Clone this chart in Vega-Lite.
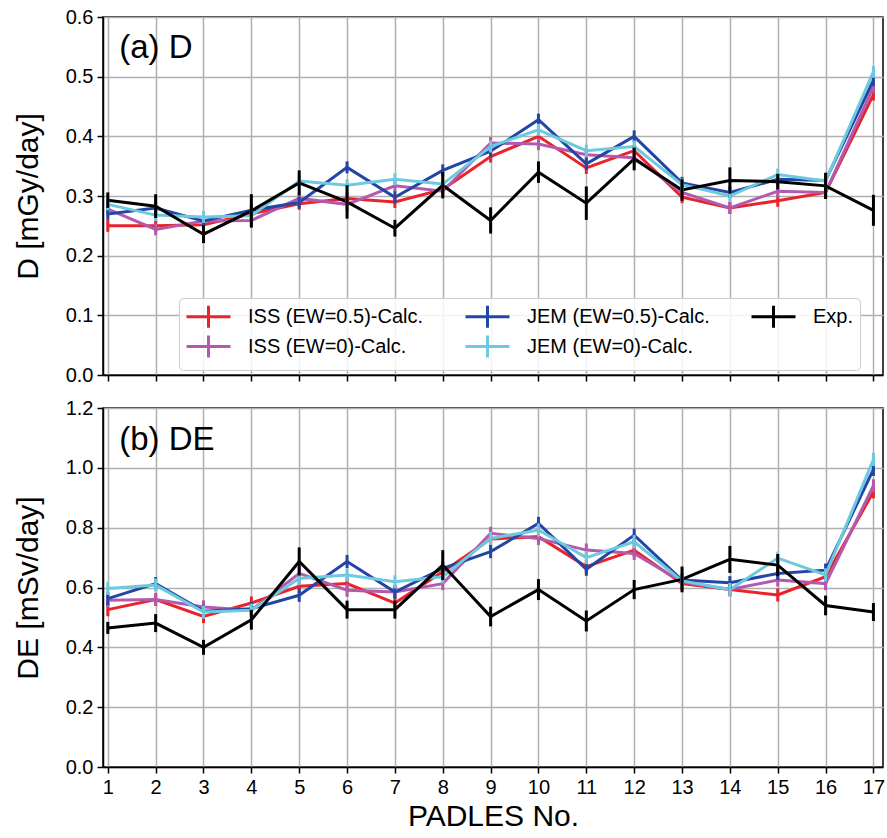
{
  "$schema": "https://vega.github.io/schema/vega-lite/v6.json",
  "padding": {"left": 12, "top": 6, "right": 3, "bottom": 4},
  "bounds": "flush",
  "spacing": 33,
  "resolve": {"legend": {"color": "independent"}},
  "config": {
    "font": "Liberation Sans",
    "view": {"stroke": "black", "strokeWidth": 1.5},
    "axis": {"gridColor": "#b0b0b0", "gridWidth": 1.5, "domainColor": "black", "domainWidth": 1.5, "tickColor": "black", "tickWidth": 1.5, "tickSize": 6, "labelFontSize": 20, "labelColor": "black", "titleFontSize": 30, "titleFontWeight": "normal", "titleColor": "black", "labelFont": "Liberation Sans", "titleFont": "Liberation Sans", "labelPadding": 4}
  },
  "datasets": {
    "d": [
      {"p":"D","s":"ISS (EW=0.5)-Calc.","x":1,"y":0.250,"e":0.01},{"p":"D","s":"ISS (EW=0.5)-Calc.","x":2,"y":0.250,"e":0.01},{"p":"D","s":"ISS (EW=0.5)-Calc.","x":3,"y":0.252,"e":0.01},{"p":"D","s":"ISS (EW=0.5)-Calc.","x":4,"y":0.270,"e":0.01},{"p":"D","s":"ISS (EW=0.5)-Calc.","x":5,"y":0.287,"e":0.01},{"p":"D","s":"ISS (EW=0.5)-Calc.","x":6,"y":0.296,"e":0.01},{"p":"D","s":"ISS (EW=0.5)-Calc.","x":7,"y":0.290,"e":0.01},{"p":"D","s":"ISS (EW=0.5)-Calc.","x":8,"y":0.311,"e":0.01},{"p":"D","s":"ISS (EW=0.5)-Calc.","x":9,"y":0.366,"e":0.01},{"p":"D","s":"ISS (EW=0.5)-Calc.","x":10,"y":0.400,"e":0.01},{"p":"D","s":"ISS (EW=0.5)-Calc.","x":11,"y":0.347,"e":0.01},{"p":"D","s":"ISS (EW=0.5)-Calc.","x":12,"y":0.376,"e":0.01},{"p":"D","s":"ISS (EW=0.5)-Calc.","x":13,"y":0.298,"e":0.01},{"p":"D","s":"ISS (EW=0.5)-Calc.","x":14,"y":0.280,"e":0.01},{"p":"D","s":"ISS (EW=0.5)-Calc.","x":15,"y":0.292,"e":0.01},{"p":"D","s":"ISS (EW=0.5)-Calc.","x":16,"y":0.306,"e":0.01},{"p":"D","s":"ISS (EW=0.5)-Calc.","x":17,"y":0.470,"e":0.01},
      {"p":"D","s":"ISS (EW=0)-Calc.","x":1,"y":0.278,"e":0.01},{"p":"D","s":"ISS (EW=0)-Calc.","x":2,"y":0.244,"e":0.01},{"p":"D","s":"ISS (EW=0)-Calc.","x":3,"y":0.258,"e":0.01},{"p":"D","s":"ISS (EW=0)-Calc.","x":4,"y":0.259,"e":0.01},{"p":"D","s":"ISS (EW=0)-Calc.","x":5,"y":0.296,"e":0.01},{"p":"D","s":"ISS (EW=0)-Calc.","x":6,"y":0.286,"e":0.01},{"p":"D","s":"ISS (EW=0)-Calc.","x":7,"y":0.317,"e":0.01},{"p":"D","s":"ISS (EW=0)-Calc.","x":8,"y":0.308,"e":0.01},{"p":"D","s":"ISS (EW=0)-Calc.","x":9,"y":0.389,"e":0.01},{"p":"D","s":"ISS (EW=0)-Calc.","x":10,"y":0.387,"e":0.01},{"p":"D","s":"ISS (EW=0)-Calc.","x":11,"y":0.369,"e":0.01},{"p":"D","s":"ISS (EW=0)-Calc.","x":12,"y":0.364,"e":0.01},{"p":"D","s":"ISS (EW=0)-Calc.","x":13,"y":0.306,"e":0.01},{"p":"D","s":"ISS (EW=0)-Calc.","x":14,"y":0.280,"e":0.01},{"p":"D","s":"ISS (EW=0)-Calc.","x":15,"y":0.308,"e":0.01},{"p":"D","s":"ISS (EW=0)-Calc.","x":16,"y":0.306,"e":0.01},{"p":"D","s":"ISS (EW=0)-Calc.","x":17,"y":0.483,"e":0.01},
      {"p":"D","s":"JEM (EW=0.5)-Calc.","x":1,"y":0.270,"e":0.01},{"p":"D","s":"JEM (EW=0.5)-Calc.","x":2,"y":0.280,"e":0.01},{"p":"D","s":"JEM (EW=0.5)-Calc.","x":3,"y":0.258,"e":0.01},{"p":"D","s":"JEM (EW=0.5)-Calc.","x":4,"y":0.276,"e":0.01},{"p":"D","s":"JEM (EW=0.5)-Calc.","x":5,"y":0.289,"e":0.01},{"p":"D","s":"JEM (EW=0.5)-Calc.","x":6,"y":0.348,"e":0.01},{"p":"D","s":"JEM (EW=0.5)-Calc.","x":7,"y":0.298,"e":0.01},{"p":"D","s":"JEM (EW=0.5)-Calc.","x":8,"y":0.343,"e":0.01},{"p":"D","s":"JEM (EW=0.5)-Calc.","x":9,"y":0.375,"e":0.01},{"p":"D","s":"JEM (EW=0.5)-Calc.","x":10,"y":0.428,"e":0.01},{"p":"D","s":"JEM (EW=0.5)-Calc.","x":11,"y":0.354,"e":0.01},{"p":"D","s":"JEM (EW=0.5)-Calc.","x":12,"y":0.400,"e":0.01},{"p":"D","s":"JEM (EW=0.5)-Calc.","x":13,"y":0.322,"e":0.01},{"p":"D","s":"JEM (EW=0.5)-Calc.","x":14,"y":0.306,"e":0.01},{"p":"D","s":"JEM (EW=0.5)-Calc.","x":15,"y":0.328,"e":0.01},{"p":"D","s":"JEM (EW=0.5)-Calc.","x":16,"y":0.326,"e":0.01},{"p":"D","s":"JEM (EW=0.5)-Calc.","x":17,"y":0.494,"e":0.01},
      {"p":"D","s":"JEM (EW=0)-Calc.","x":1,"y":0.286,"e":0.01},{"p":"D","s":"JEM (EW=0)-Calc.","x":2,"y":0.268,"e":0.01},{"p":"D","s":"JEM (EW=0)-Calc.","x":3,"y":0.265,"e":0.01},{"p":"D","s":"JEM (EW=0)-Calc.","x":4,"y":0.267,"e":0.01},{"p":"D","s":"JEM (EW=0)-Calc.","x":5,"y":0.325,"e":0.01},{"p":"D","s":"JEM (EW=0)-Calc.","x":6,"y":0.318,"e":0.01},{"p":"D","s":"JEM (EW=0)-Calc.","x":7,"y":0.328,"e":0.01},{"p":"D","s":"JEM (EW=0)-Calc.","x":8,"y":0.320,"e":0.01},{"p":"D","s":"JEM (EW=0)-Calc.","x":9,"y":0.383,"e":0.01},{"p":"D","s":"JEM (EW=0)-Calc.","x":10,"y":0.411,"e":0.01},{"p":"D","s":"JEM (EW=0)-Calc.","x":11,"y":0.376,"e":0.01},{"p":"D","s":"JEM (EW=0)-Calc.","x":12,"y":0.383,"e":0.01},{"p":"D","s":"JEM (EW=0)-Calc.","x":13,"y":0.319,"e":0.01},{"p":"D","s":"JEM (EW=0)-Calc.","x":14,"y":0.300,"e":0.01},{"p":"D","s":"JEM (EW=0)-Calc.","x":15,"y":0.336,"e":0.01},{"p":"D","s":"JEM (EW=0)-Calc.","x":16,"y":0.325,"e":0.01},{"p":"D","s":"JEM (EW=0)-Calc.","x":17,"y":0.508,"e":0.01},
      {"p":"D","s":"Exp.","x":1,"y":0.293,"e":0.013},{"p":"D","s":"Exp.","x":2,"y":0.283,"e":0.02},{"p":"D","s":"Exp.","x":3,"y":0.236,"e":0.015},{"p":"D","s":"Exp.","x":4,"y":0.275,"e":0.028},{"p":"D","s":"Exp.","x":5,"y":0.322,"e":0.021},{"p":"D","s":"Exp.","x":6,"y":0.290,"e":0.028},{"p":"D","s":"Exp.","x":7,"y":0.246,"e":0.014},{"p":"D","s":"Exp.","x":8,"y":0.318,"e":0.022},{"p":"D","s":"Exp.","x":9,"y":0.259,"e":0.022},{"p":"D","s":"Exp.","x":10,"y":0.340,"e":0.018},{"p":"D","s":"Exp.","x":11,"y":0.288,"e":0.028},{"p":"D","s":"Exp.","x":12,"y":0.362,"e":0.019},{"p":"D","s":"Exp.","x":13,"y":0.310,"e":0.018},{"p":"D","s":"Exp.","x":14,"y":0.326,"e":0.022},{"p":"D","s":"Exp.","x":15,"y":0.324,"e":0.013},{"p":"D","s":"Exp.","x":16,"y":0.317,"e":0.022},{"p":"D","s":"Exp.","x":17,"y":0.276,"e":0.026},
      {"p":"DE","s":"ISS (EW=0.5)-Calc.","x":1,"y":0.526,"e":0.022},{"p":"DE","s":"ISS (EW=0.5)-Calc.","x":2,"y":0.560,"e":0.022},{"p":"DE","s":"ISS (EW=0.5)-Calc.","x":3,"y":0.503,"e":0.022},{"p":"DE","s":"ISS (EW=0.5)-Calc.","x":4,"y":0.548,"e":0.022},{"p":"DE","s":"ISS (EW=0.5)-Calc.","x":5,"y":0.604,"e":0.022},{"p":"DE","s":"ISS (EW=0.5)-Calc.","x":6,"y":0.613,"e":0.022},{"p":"DE","s":"ISS (EW=0.5)-Calc.","x":7,"y":0.548,"e":0.022},{"p":"DE","s":"ISS (EW=0.5)-Calc.","x":8,"y":0.653,"e":0.022},{"p":"DE","s":"ISS (EW=0.5)-Calc.","x":9,"y":0.762,"e":0.022},{"p":"DE","s":"ISS (EW=0.5)-Calc.","x":10,"y":0.770,"e":0.022},{"p":"DE","s":"ISS (EW=0.5)-Calc.","x":11,"y":0.670,"e":0.022},{"p":"DE","s":"ISS (EW=0.5)-Calc.","x":12,"y":0.725,"e":0.022},{"p":"DE","s":"ISS (EW=0.5)-Calc.","x":13,"y":0.613,"e":0.022},{"p":"DE","s":"ISS (EW=0.5)-Calc.","x":14,"y":0.593,"e":0.022},{"p":"DE","s":"ISS (EW=0.5)-Calc.","x":15,"y":0.575,"e":0.022},{"p":"DE","s":"ISS (EW=0.5)-Calc.","x":16,"y":0.636,"e":0.022},{"p":"DE","s":"ISS (EW=0.5)-Calc.","x":17,"y":0.920,"e":0.022},
      {"p":"DE","s":"ISS (EW=0)-Calc.","x":1,"y":0.557,"e":0.022},{"p":"DE","s":"ISS (EW=0)-Calc.","x":2,"y":0.560,"e":0.022},{"p":"DE","s":"ISS (EW=0)-Calc.","x":3,"y":0.535,"e":0.022},{"p":"DE","s":"ISS (EW=0)-Calc.","x":4,"y":0.524,"e":0.022},{"p":"DE","s":"ISS (EW=0)-Calc.","x":5,"y":0.647,"e":0.022},{"p":"DE","s":"ISS (EW=0)-Calc.","x":6,"y":0.591,"e":0.022},{"p":"DE","s":"ISS (EW=0)-Calc.","x":7,"y":0.585,"e":0.022},{"p":"DE","s":"ISS (EW=0)-Calc.","x":8,"y":0.613,"e":0.022},{"p":"DE","s":"ISS (EW=0)-Calc.","x":9,"y":0.781,"e":0.022},{"p":"DE","s":"ISS (EW=0)-Calc.","x":10,"y":0.764,"e":0.022},{"p":"DE","s":"ISS (EW=0)-Calc.","x":11,"y":0.725,"e":0.022},{"p":"DE","s":"ISS (EW=0)-Calc.","x":12,"y":0.714,"e":0.022},{"p":"DE","s":"ISS (EW=0)-Calc.","x":13,"y":0.619,"e":0.022},{"p":"DE","s":"ISS (EW=0)-Calc.","x":14,"y":0.593,"e":0.022},{"p":"DE","s":"ISS (EW=0)-Calc.","x":15,"y":0.625,"e":0.022},{"p":"DE","s":"ISS (EW=0)-Calc.","x":16,"y":0.613,"e":0.022},{"p":"DE","s":"ISS (EW=0)-Calc.","x":17,"y":0.940,"e":0.022},
      {"p":"DE","s":"JEM (EW=0.5)-Calc.","x":1,"y":0.563,"e":0.022},{"p":"DE","s":"JEM (EW=0.5)-Calc.","x":2,"y":0.613,"e":0.022},{"p":"DE","s":"JEM (EW=0.5)-Calc.","x":3,"y":0.521,"e":0.022},{"p":"DE","s":"JEM (EW=0.5)-Calc.","x":4,"y":0.529,"e":0.022},{"p":"DE","s":"JEM (EW=0.5)-Calc.","x":5,"y":0.574,"e":0.022},{"p":"DE","s":"JEM (EW=0.5)-Calc.","x":6,"y":0.687,"e":0.022},{"p":"DE","s":"JEM (EW=0.5)-Calc.","x":7,"y":0.585,"e":0.022},{"p":"DE","s":"JEM (EW=0.5)-Calc.","x":8,"y":0.664,"e":0.022},{"p":"DE","s":"JEM (EW=0.5)-Calc.","x":9,"y":0.720,"e":0.022},{"p":"DE","s":"JEM (EW=0.5)-Calc.","x":10,"y":0.814,"e":0.022},{"p":"DE","s":"JEM (EW=0.5)-Calc.","x":11,"y":0.661,"e":0.022},{"p":"DE","s":"JEM (EW=0.5)-Calc.","x":12,"y":0.775,"e":0.022},{"p":"DE","s":"JEM (EW=0.5)-Calc.","x":13,"y":0.625,"e":0.022},{"p":"DE","s":"JEM (EW=0.5)-Calc.","x":14,"y":0.616,"e":0.022},{"p":"DE","s":"JEM (EW=0.5)-Calc.","x":15,"y":0.647,"e":0.022},{"p":"DE","s":"JEM (EW=0.5)-Calc.","x":16,"y":0.658,"e":0.022},{"p":"DE","s":"JEM (EW=0.5)-Calc.","x":17,"y":0.995,"e":0.022},
      {"p":"DE","s":"JEM (EW=0)-Calc.","x":1,"y":0.597,"e":0.022},{"p":"DE","s":"JEM (EW=0)-Calc.","x":2,"y":0.608,"e":0.022},{"p":"DE","s":"JEM (EW=0)-Calc.","x":3,"y":0.518,"e":0.022},{"p":"DE","s":"JEM (EW=0)-Calc.","x":4,"y":0.524,"e":0.022},{"p":"DE","s":"JEM (EW=0)-Calc.","x":5,"y":0.630,"e":0.022},{"p":"DE","s":"JEM (EW=0)-Calc.","x":6,"y":0.642,"e":0.022},{"p":"DE","s":"JEM (EW=0)-Calc.","x":7,"y":0.619,"e":0.022},{"p":"DE","s":"JEM (EW=0)-Calc.","x":8,"y":0.636,"e":0.022},{"p":"DE","s":"JEM (EW=0)-Calc.","x":9,"y":0.764,"e":0.022},{"p":"DE","s":"JEM (EW=0)-Calc.","x":10,"y":0.792,"e":0.022},{"p":"DE","s":"JEM (EW=0)-Calc.","x":11,"y":0.700,"e":0.022},{"p":"DE","s":"JEM (EW=0)-Calc.","x":12,"y":0.753,"e":0.022},{"p":"DE","s":"JEM (EW=0)-Calc.","x":13,"y":0.622,"e":0.022},{"p":"DE","s":"JEM (EW=0)-Calc.","x":14,"y":0.593,"e":0.022},{"p":"DE","s":"JEM (EW=0)-Calc.","x":15,"y":0.698,"e":0.022},{"p":"DE","s":"JEM (EW=0)-Calc.","x":16,"y":0.642,"e":0.022},{"p":"DE","s":"JEM (EW=0)-Calc.","x":17,"y":1.028,"e":0.022},
      {"p":"DE","s":"Exp.","x":1,"y":0.465,"e":0.02},{"p":"DE","s":"Exp.","x":2,"y":0.481,"e":0.03},{"p":"DE","s":"Exp.","x":3,"y":0.400,"e":0.025},{"p":"DE","s":"Exp.","x":4,"y":0.492,"e":0.033},{"p":"DE","s":"Exp.","x":5,"y":0.687,"e":0.047},{"p":"DE","s":"Exp.","x":6,"y":0.526,"e":0.03},{"p":"DE","s":"Exp.","x":7,"y":0.526,"e":0.03},{"p":"DE","s":"Exp.","x":8,"y":0.675,"e":0.05},{"p":"DE","s":"Exp.","x":9,"y":0.503,"e":0.033},{"p":"DE","s":"Exp.","x":10,"y":0.593,"e":0.035},{"p":"DE","s":"Exp.","x":11,"y":0.488,"e":0.035},{"p":"DE","s":"Exp.","x":12,"y":0.593,"e":0.032},{"p":"DE","s":"Exp.","x":13,"y":0.627,"e":0.043},{"p":"DE","s":"Exp.","x":14,"y":0.694,"e":0.045},{"p":"DE","s":"Exp.","x":15,"y":0.675,"e":0.037},{"p":"DE","s":"Exp.","x":16,"y":0.540,"e":0.033},{"p":"DE","s":"Exp.","x":17,"y":0.518,"e":0.03}
    ]
  },
  "vconcat": [
    {
      "width": 780,
      "height": 358,
      "layer": [
        {
          "data": {"name": "d"},
          "transform": [{"filter": "datum.p == 'D'"}],
          "mark": {"type": "line", "strokeWidth": 3},
          "encoding": {
            "x": {"field": "x", "type": "quantitative", "title": null, "scale": {"domain": [0.9, 17.2], "nice": false, "zero": false}, "axis": {"values": [1,2,3,4,5,6,7,8,9,10,11,12,13,14,15,16,17], "labels": false}},
            "y": {"field": "y", "type": "quantitative", "title": "D [mGy/day]", "scale": {"domain": [0, 0.6], "nice": false, "zero": false}, "axis": {"values": [0,0.1,0.2,0.3,0.4,0.5,0.6], "format": ".1f", "titlePadding": 22}},
            "color": {"field": "s", "type": "nominal", "scale": {"domain": ["ISS (EW=0.5)-Calc.", "ISS (EW=0)-Calc.", "JEM (EW=0.5)-Calc.", "JEM (EW=0)-Calc.", "Exp."], "range": ["#e8232a", "#b35aae", "#2346a6", "#6dcade", "#000000"]},
              "legend": {"orient": "none", "legendX": 76, "legendY": 281, "columns": 3, "title": null, "symbolType": "M-1,0H3M1,-1V1", "symbolSize": 484, "symbolStrokeWidth": 3, "symbolFillColor": "transparent", "labelFontSize": 20, "labelFont": "Liberation Sans", "labelColor": "black", "labelLimit": 400, "labelOffset": 38, "columnPadding": 35, "rowPadding": -7, "fillColor": "rgba(255,255,255,0.85)", "strokeColor": "#cccccc", "cornerRadius": 4, "padding": 6}},
            "order": {"field": "x", "type": "quantitative"}
          }
        },
        {
          "data": {"name": "d"},
          "transform": [{"filter": "datum.p == 'D'"}],
          "mark": {"type": "errorbar", "thickness": 3},
          "encoding": {
            "x": {"field": "x", "type": "quantitative", "title": null},
            "y": {"field": "y", "type": "quantitative", "title": "D [mGy/day]"},
            "yError": {"field": "e"},
            "color": {"field": "s", "type": "nominal"}
          }
        },
        {
          "data": {"values": [{"t": "(a) D", "x": 1.24, "y": 0.548}]},
          "mark": {"type": "text", "align": "left", "baseline": "middle", "fontSize": 33, "font": "Liberation Sans", "color": "black"},
          "encoding": {
            "x": {"field": "x", "type": "quantitative", "title": null},
            "y": {"field": "y", "type": "quantitative", "title": "D [mGy/day]"},
            "text": {"field": "t"}
          }
        }
      ]
    },
    {
      "width": 780,
      "height": 359,
      "layer": [
        {
          "data": {"name": "d"},
          "transform": [{"filter": "datum.p == 'DE'"}],
          "mark": {"type": "line", "strokeWidth": 3},
          "encoding": {
            "x": {"field": "x", "type": "quantitative", "title": "PADLES No.", "scale": {"domain": [0.9, 17.2], "nice": false, "zero": false}, "axis": {"values": [1,2,3,4,5,6,7,8,9,10,11,12,13,14,15,16,17], "titlePadding": 4}},
            "y": {"field": "y", "type": "quantitative", "title": "DE [mSv/day]", "scale": {"domain": [0, 1.2], "nice": false, "zero": false}, "axis": {"values": [0,0.2,0.4,0.6,0.8,1.0,1.2], "format": ".1f", "titlePadding": 22}},
            "color": {"field": "s", "type": "nominal", "scale": {"domain": ["ISS (EW=0.5)-Calc.", "ISS (EW=0)-Calc.", "JEM (EW=0.5)-Calc.", "JEM (EW=0)-Calc.", "Exp."], "range": ["#e8232a", "#b35aae", "#2346a6", "#6dcade", "#000000"]}, "legend": null},
            "order": {"field": "x", "type": "quantitative"}
          }
        },
        {
          "data": {"name": "d"},
          "transform": [{"filter": "datum.p == 'DE'"}],
          "mark": {"type": "errorbar", "thickness": 3},
          "encoding": {
            "x": {"field": "x", "type": "quantitative", "title": "PADLES No."},
            "y": {"field": "y", "type": "quantitative", "title": "DE [mSv/day]"},
            "yError": {"field": "e"},
            "color": {"field": "s", "type": "nominal", "legend": null}
          }
        },
        {
          "data": {"values": [{"t": "(b) DE", "x": 1.24, "y": 1.093}]},
          "mark": {"type": "text", "align": "left", "baseline": "middle", "fontSize": 33, "font": "Liberation Sans", "color": "black"},
          "encoding": {
            "x": {"field": "x", "type": "quantitative", "title": "PADLES No."},
            "y": {"field": "y", "type": "quantitative", "title": "DE [mSv/day]"},
            "text": {"field": "t"}
          }
        }
      ]
    }
  ]
}
